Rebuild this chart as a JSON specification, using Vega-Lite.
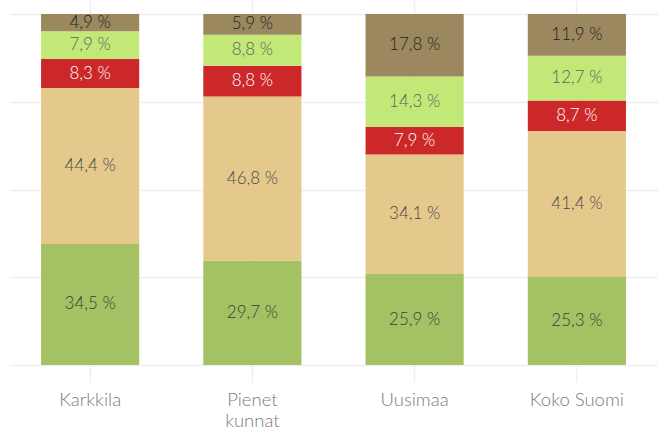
{
  "$schema": "https://vega.github.io/schema/vega-lite/v6.json",
  "autosize": "none",
  "width": 649,
  "height": 365,
  "padding": {"left": 9, "top": 0, "right": 0, "bottom": 65},
  "background": "white",
  "config": {"view": {"stroke": null}, "font": "Lato"},
  "data": {"values": [
    {"alue": "Karkkila", "luokka": "A", "osuus": 34.5},
    {"alue": "Karkkila", "luokka": "B", "osuus": 44.4},
    {"alue": "Karkkila", "luokka": "C", "osuus": 8.3},
    {"alue": "Karkkila", "luokka": "D", "osuus": 7.9},
    {"alue": "Karkkila", "luokka": "E", "osuus": 4.9},
    {"alue": "Pienet kunnat", "luokka": "A", "osuus": 29.7},
    {"alue": "Pienet kunnat", "luokka": "B", "osuus": 46.8},
    {"alue": "Pienet kunnat", "luokka": "C", "osuus": 8.8},
    {"alue": "Pienet kunnat", "luokka": "D", "osuus": 8.8},
    {"alue": "Pienet kunnat", "luokka": "E", "osuus": 5.9},
    {"alue": "Uusimaa", "luokka": "A", "osuus": 25.9},
    {"alue": "Uusimaa", "luokka": "B", "osuus": 34.1},
    {"alue": "Uusimaa", "luokka": "C", "osuus": 7.9},
    {"alue": "Uusimaa", "luokka": "D", "osuus": 14.3},
    {"alue": "Uusimaa", "luokka": "E", "osuus": 17.8},
    {"alue": "Koko Suomi", "luokka": "A", "osuus": 25.3},
    {"alue": "Koko Suomi", "luokka": "B", "osuus": 41.4},
    {"alue": "Koko Suomi", "luokka": "C", "osuus": 8.7},
    {"alue": "Koko Suomi", "luokka": "D", "osuus": 12.7},
    {"alue": "Koko Suomi", "luokka": "E", "osuus": 11.9}
  ]},
  "transform": [
    {"stack": "osuus", "groupby": ["alue"], "sort": [{"field": "luokka", "order": "ascending"}], "offset": "normalize", "as": ["y0", "y1"]},
    {"calculate": "(datum.y0 + datum.y1) / 2", "as": "ymid"}
  ],
  "encoding": {
    "x": {
      "field": "alue", "type": "nominal",
      "sort": ["Karkkila", "Pienet kunnat", "Uusimaa", "Koko Suomi"],
      "scale": {"paddingInner": 0.395, "paddingOuter": 0.1975},
      "axis": {
        "title": null, "domain": false, "labelAngle": 0,
        "grid": true, "gridColor": "#efefef", "gridWidth": 1.5,
        "ticks": true, "tickColor": "#efefef", "tickSize": 17, "tickWidth": 1.5,
        "labelFontSize": 18.5, "labelColor": "#7a7a7a", "labelPadding": 8,
        "labelLineHeight": 21, "labelFont": "Lato", "labelFontWeight": 300,
        "labelExpr": "datum.label == 'Pienet kunnat' ? ['Pienet', 'kunnat'] : datum.label"
      }
    }
  },
  "layer": [
    {
      "mark": {"type": "bar"},
      "encoding": {
        "y": {"field": "y0", "type": "quantitative", "scale": {"domain": [0, 1.04], "nice": false, "zero": true},
          "axis": {"title": null, "labels": false, "ticks": false, "domain": false, "grid": true, "gridColor": "#efefef", "gridWidth": 1.5, "values": [0, 0.25, 0.5, 0.75, 1]}},
        "y2": {"field": "y1"},
        "color": {"field": "luokka", "type": "nominal", "legend": null,
          "scale": {"domain": ["A", "B", "C", "D", "E"], "range": ["#a4c263", "#e5c98c", "#cc2829", "#c2e878", "#9b885e"]}}
      }
    },
    {
      "mark": {"type": "text", "fontSize": 17, "font": "Lato", "fontWeight": 300, "baseline": "middle", "align": "center",
        "text": {"expr": "replace(format(datum.osuus, '.1f'), '.', ',') + ' %'"}},
      "encoding": {
        "y": {"field": "ymid", "type": "quantitative"},
        "color": {"field": "luokka", "type": "nominal", "legend": null,
          "scale": {"domain": ["A", "B", "C", "D", "E"], "range": ["#3c3c3c", "#4a4a4a", "#ffffff", "#606060", "#222222"]}}
      }
    }
  ],
  "resolve": {"scale": {"color": "independent"}}
}
